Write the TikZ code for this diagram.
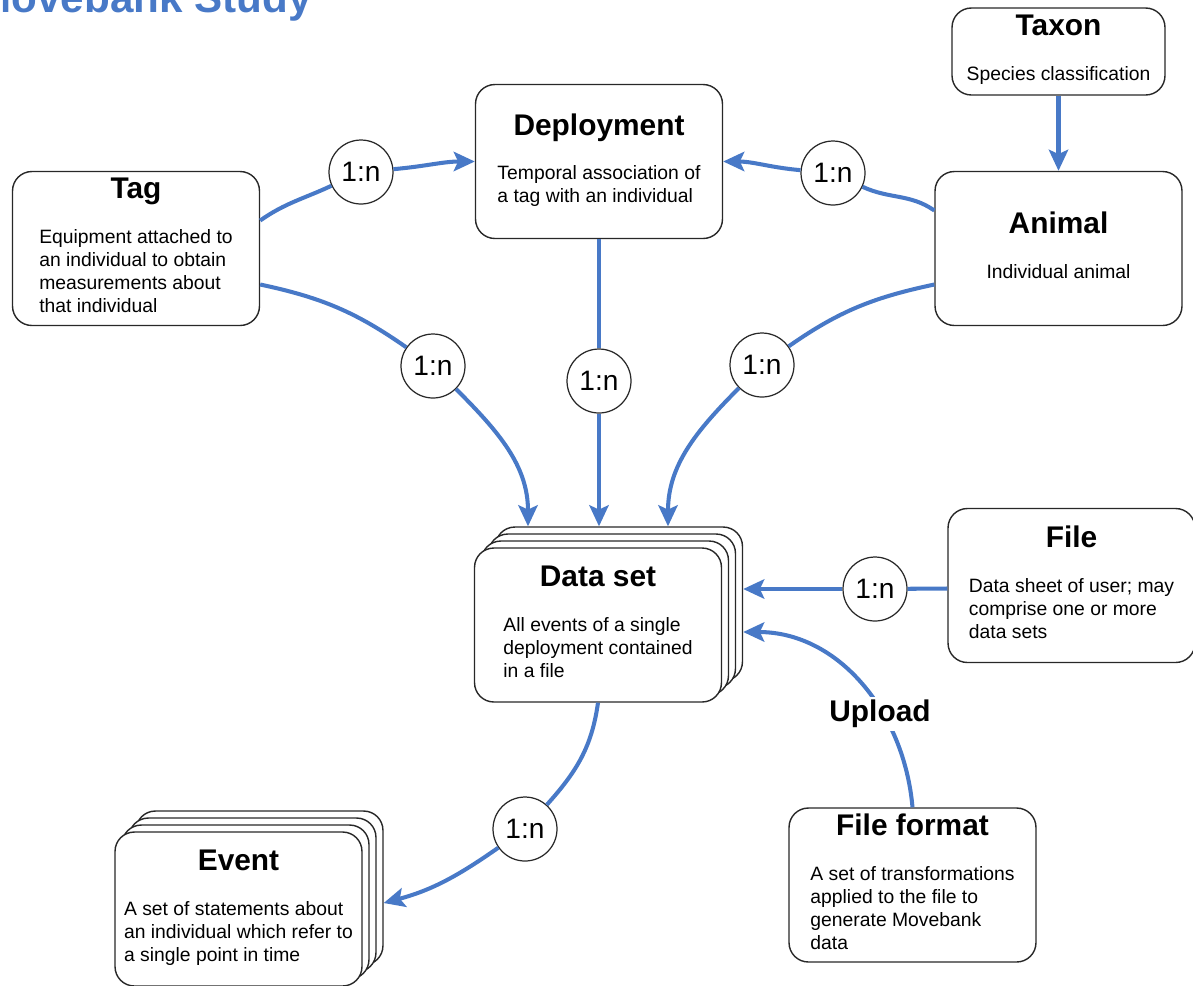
\documentclass[tikz,border=0pt]{standalone}
\usepackage{fontspec}
\setmainfont{Liberation Sans}
\usepackage{xcolor}
\usepackage{tikz}
\usetikzlibrary{arrows.meta}
\usetikzlibrary{shadows}
\definecolor{blau}{RGB}{72,121,199}
\definecolor{rahmen}{RGB}{40,40,40}
\newcommand{\titelschrift}{\fontsize{17}{20}\selectfont\bfseries}
\newcommand{\textschrift}{\fontsize{11}{13}\selectfont}
\newcommand{\kasten}[2]{{\titelschrift #1}\\[12.5pt]\begin{tabular}[t]{@{}l@{}}#2\end{tabular}}
\tikzset{
  Box/.style={draw=rahmen, line width=0.8pt, rounded corners=11pt, fill=white,
    align=center, font=\textschrift, inner sep=2pt,
    minimum width=4.94cm, minimum height=3.08cm}, % Kaesten
  Stapel/.style={
    copy shadow={shadow xshift=0.42cm, shadow yshift=0.42cm, draw=rahmen, line width=0.8pt},
    copy shadow={shadow xshift=0.28cm, shadow yshift=0.28cm, draw=rahmen, line width=0.8pt},
    copy shadow={shadow xshift=0.14cm, shadow yshift=0.14cm, draw=rahmen, line width=0.8pt}}, % mehrere Exemplare
  Kard/.style={circle, draw=rahmen, line width=0.7pt, fill=white, inner sep=0pt,
    minimum size=1.28cm, font=\fontsize{16}{18}\selectfont}, % 1:n Kreise
  Linie/.style={draw=blau, line width=2.3pt},
  Pfeil/.style={Linie, ->}
}

\begin{document}
\begin{tikzpicture}[x=0.02cm, y=0.02cm,
>={Stealth[length=12pt,width=11pt,inset=2.5pt]} % Voreinstellung fuer Pfeilspitzen
]
\useasboundingbox (0,0) rectangle (1193,-985);

%Titel
\node[anchor=base east, inner sep=0pt, text=blau, font=\fontsize{24}{28}\selectfont\bfseries] (Titel) at (312,-12) {Movebank Study};

%Kaesten
\node[Box, minimum width=4.26cm, minimum height=1.74cm] (Taxon) at (1058.5,-51.5) {\kasten{Taxon}{Species classification}};
\node[Box] (Deployment) at (599,-161.5) {\kasten{Deployment}{Temporal association of\\a tag with an individual}};
\node[Box] (Tag) at (136,-248.5) {\kasten{Tag}{Equipment attached to\\an individual to obtain\\measurements about\\that individual}};
\node[Box] (Animal) at (1058.5,-248.5) {\kasten{Animal}{Individual animal}};
\node[Box, Stapel] (DataSet) at (598,-625) {\kasten{Data set}{All events of a single\\deployment contained\\in a file}};
\node[Box] (File) at (1071.5,-585.5) {\kasten{File}{Data sheet of user; may\\comprise one or more\\data sets}};
\node[Box, Stapel] (Event) at (238.5,-909) {\kasten{Event}{A set of statements about\\an individual which refer to\\a single point in time}};
\node[Box] (FileFormat) at (912.5,-885) {\kasten{File format}{A set of transformations\\applied to the file to\\generate Movebank\\data}};

%Kardinalitaeten
\node[Kard] (kTD) at (361,-172) {1:n};
\node[Kard] (kAD) at (833,-173) {1:n};
\node[Kard] (kTS) at (433,-366) {1:n};
\node[Kard] (kDS) at (599,-381) {1:n};
\node[Kard] (kAS) at (762,-365) {1:n};
\node[Kard] (kFS) at (875,-589) {1:n};
\node[Kard] (kSE) at (525,-829) {1:n};

%Hilfspunkte am Stapel
\coordinate (dsoben) at ([shift={(0,21)}]DataSet.north);
\coordinate (dsrechts) at ([shift={(21,0)}]DataSet.east);

%Verbindungen
\draw[Pfeil] (Taxon) -- (Animal);

\draw[Linie] ([shift={(0,28)}]Tag.east) to[out=35,in=205] (kTD);
\draw[Pfeil] (kTD) to[out=5,in=180] (Deployment.west);
\draw[Linie] ([shift={(0,38)}]Animal.west) to[out=145,in=335] (kAD);
\draw[Pfeil] (kAD) to[out=175,in=0] (Deployment.east);

\draw[Linie] ([shift={(0,-36)}]Tag.east) to[out=-12,in=145] (kTS);
\draw[Pfeil] (kTS) to[out=-45,in=90] ([shift={(-70,0)}]dsoben);
\draw[Linie] (Deployment) -- (kDS);
\draw[Pfeil] (kDS) -- (kDS |- dsoben);
\draw[Linie] ([shift={(0,-36)}]Animal.west) to[out=192,in=35] (kAS);
\draw[Pfeil] (kAS) to[out=225,in=90] ([shift={(70,0)}]dsoben);

\draw[Linie] ([shift={(0,-3)}]File.west) -- (kFS);
\draw[Pfeil] (kFS) -- (kFS -| dsrechts);
\draw[Pfeil] (FileFormat.north) to[out=95,in=0] ([shift={(0,-7)}]dsrechts);
\node[fill=white, inner sep=2pt, font=\titelschrift] (Upload) at (880,-714) {Upload};

\draw[Linie] (DataSet.south) to[out=-98,in=48] (kSE);
\draw[Pfeil] (kSE) to[out=215,in=15] ([shift={(21,6)}]Event.east);

\end{tikzpicture}
\end{document}
